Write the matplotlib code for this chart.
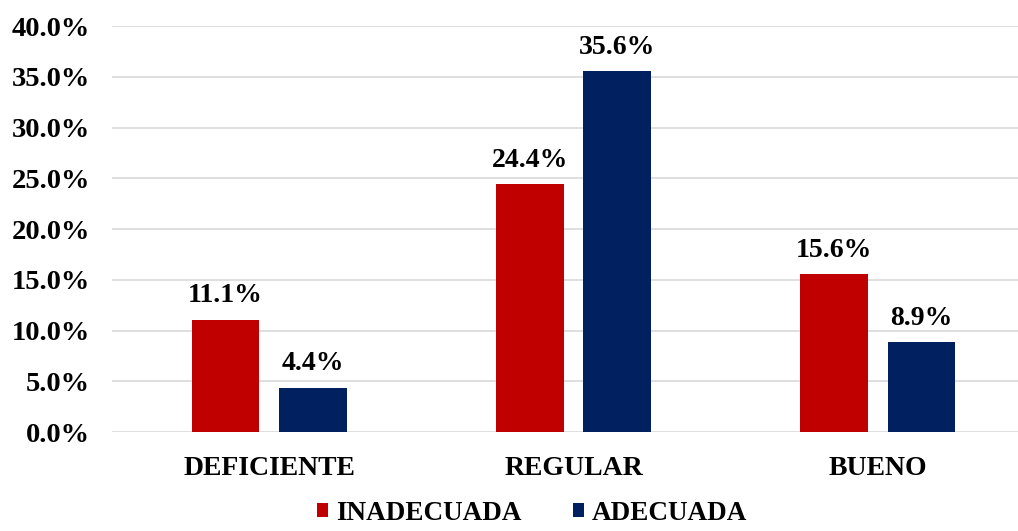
import numpy as np
import matplotlib
matplotlib.use("Agg")
import matplotlib.pyplot as plt
from matplotlib.ticker import PercentFormatter

categories = ["DEFICIENTE", "REGULAR", "BUENO"]
inadecuada = [11.1, 24.4, 15.6]
adecuada = [4.4, 35.6, 8.9]
series_names = ["INADECUADA", "ADECUADA"]

RED = "#C00000"
NAVY = "#002060"

plt.rcParams["font.family"] = ["Liberation Serif", "DejaVu Serif"]
plt.rcParams["font.weight"] = "bold"

fig = plt.figure(figsize=(10.18, 5.31), dpi=100)
ax = fig.add_axes([0.110, 0.186, 0.890, 0.765])

x = np.arange(len(categories))
width = 0.223
offset = 0.143

b1 = ax.bar(x - offset, inadecuada, width, color=RED, label=series_names[0], zorder=3)
b2 = ax.bar(x + offset, adecuada, width, color=NAVY, label=series_names[1], zorder=3)

for bars in (b1, b2):
    ax.bar_label(bars, labels=[f"{v:.1f}%" for v in bars.datavalues],
                 padding=8, fontsize=20, fontweight="bold")

ax.set_ylim(0, 40)
ax.set_xlim(-0.516, 2.46)
ax.set_yticks(np.arange(0, 41, 5))
ax.yaxis.set_major_formatter(PercentFormatter(decimals=1))
ax.set_xticks(x)
ax.set_xticklabels(categories)
ax.tick_params(axis="y", length=0, pad=16, labelsize=20.5)
ax.tick_params(axis="x", length=0, pad=17, labelsize=20)
ax.grid(axis="y", color="#d9d9d9", linewidth=1.2, zorder=0)
for s in ax.spines.values():
    s.set_visible(False)

fig.legend(loc="lower center", bbox_to_anchor=(0.523, -0.036), ncol=2, frameon=False,
           fontsize=19.5, handlelength=0.4, handleheight=0.4, handletextpad=0.3,
           columnspacing=1.9)

fig.savefig("out.png", dpi=100)
